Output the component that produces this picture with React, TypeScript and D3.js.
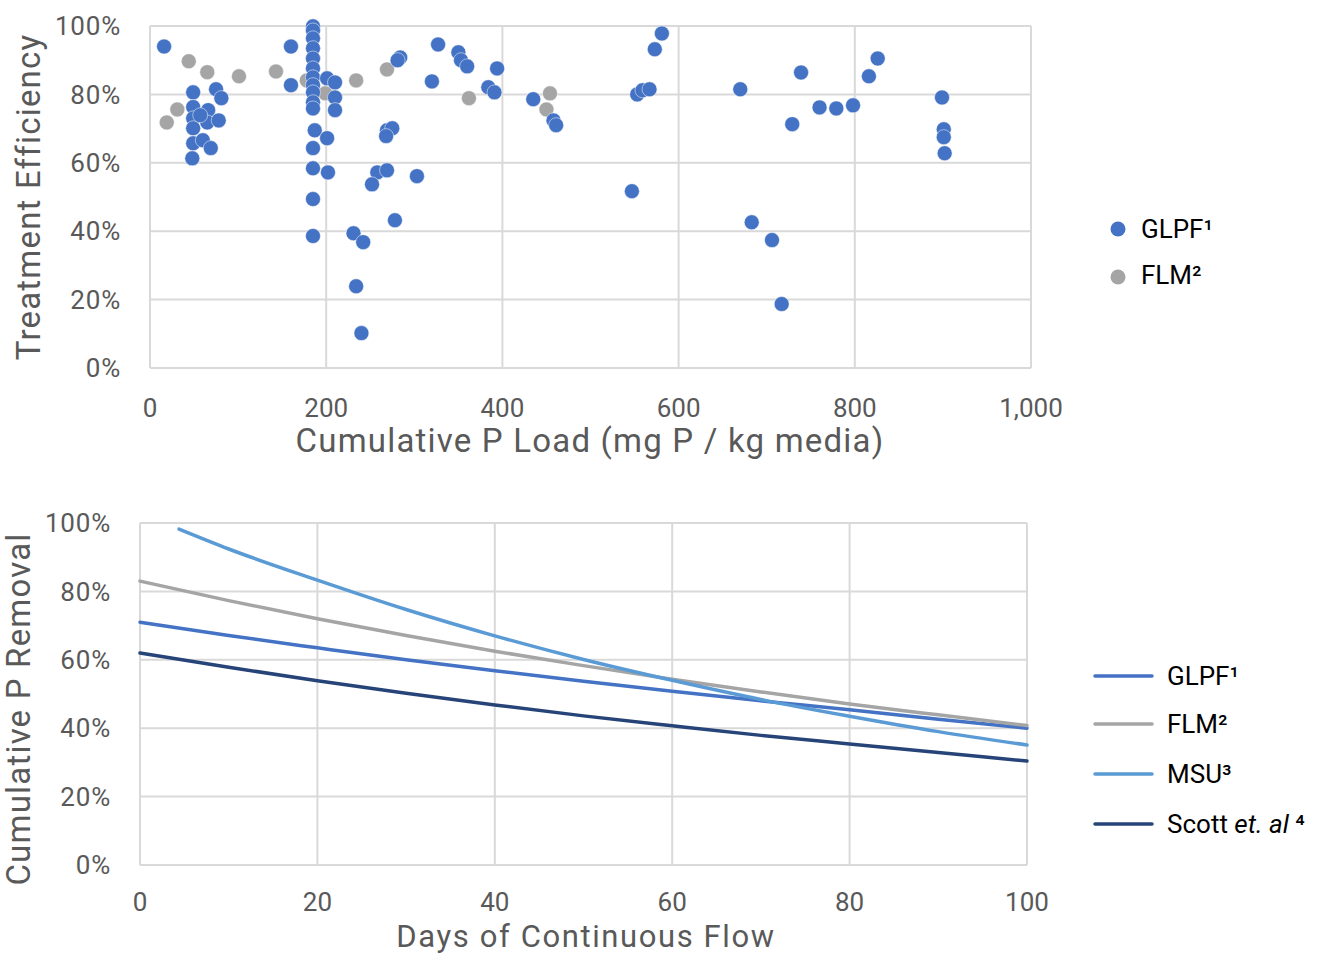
import React from 'react';
import * as d3 from 'd3';

// top chart: cumulative P load (mg P / kg media) vs treatment efficiency (%)
const glpfLoad = [16, 75, 81, 49, 49, 49, 49, 66, 65, 78, 49, 60, 69, 48, 57,
  185, 185, 160, 185, 185, 185, 185, 185, 160, 185, 185, 185, 185, 201, 210, 210, 210,
  187, 201, 185, 185, 202, 185, 185, 284, 281, 269, 275, 268, 258, 269, 252, 303,
  278, 231, 242, 234, 240, 327, 320, 350, 353, 360, 394, 384, 391, 435, 458, 461,
  581, 573, 553, 559, 567, 547, 670, 739, 729, 760, 779, 798, 826, 816, 899, 901, 901, 902,
  683, 706, 717];
const glpfEff = [94.0, 81.5, 78.9, 80.6, 76.3, 73.0, 70.1, 75.4, 71.8, 72.4, 65.7, 66.6, 64.3, 61.3, 73.9,
  99.9, 98.7, 94.0, 96.4, 93.5, 90.5, 87.6, 85.0, 82.7, 82.7, 80.6, 77.7, 75.9, 84.7, 83.5, 79.1, 75.4,
  69.5, 67.2, 64.3, 58.4, 57.2, 49.4, 38.6, 90.8, 90.0, 69.5, 70.1, 67.8, 57.2, 57.8, 53.7, 56.1,
  43.2, 39.4, 36.8, 23.9, 10.2, 94.6, 83.8, 92.3, 90.0, 88.2, 87.6, 82.1, 80.6, 78.6, 72.4, 71.0,
  97.8, 93.2, 80.0, 81.2, 81.5, 51.7, 81.5, 86.4, 71.3, 76.2, 75.9, 76.8, 90.5, 85.3, 79.1, 69.8, 67.5, 62.8,
  42.6, 37.4, 18.7];
const flmLoad = [44, 65, 101, 31, 19, 143, 178, 199, 234, 269, 362, 454, 450];
const flmEff = [89.7, 86.5, 85.3, 75.6, 71.8, 86.7, 84.1, 80.3, 84.1, 87.3, 78.9, 80.3, 75.6];

const loadTicks = [0, 200, 400, 600, 800, 1000];
const pctTicks = [0, 20, 40, 60, 80, 100];

// bottom chart: cumulative P removal (%) by days of continuous flow
const days = [0, 10, 20, 30, 40, 50, 60, 70, 80, 90, 100];
const glpfRemoval = [71.0, 67.1, 63.5, 60.0, 56.8, 53.7, 50.8, 48.0, 45.4, 42.6, 40.0];
const flmRemoval = [83.0, 77.3, 72.0, 67.1, 62.5, 58.3, 54.3, 50.6, 47.1, 43.9, 40.8];
const msuDays = [4.4, 10, 20, 30, 40, 50, 60, 70, 80, 90, 100];
const msuRemoval = [98.2, 92.4, 83.3, 74.7, 67.0, 60.1, 54.0, 48.4, 43.5, 39.0, 35.1];
const scottRemoval = [62.0, 57.8, 53.9, 50.2, 46.8, 43.6, 40.7, 37.9, 35.4, 32.9, 30.4];
const dayTicks = [0, 20, 40, 60, 80, 100];

const FONT = 'Roboto, "Noto Sans", sans-serif';
const GRID = '#D9D9D9';
const TICK = '#595959';
const BLUE = '#4472C4';
const GRAY = '#A5A5A5';
const LBLUE = '#5B9BD5';
const DBLUE = '#264478';

export default function App() {
  // top scatter
  const x1 = d3.scaleLinear().domain([0, 1000]).range([150, 1031]);
  const y1 = d3.scaleLinear().domain([0, 100]).range([368, 26]);
  // bottom lines
  const x2 = d3.scaleLinear().domain([0, 100]).range([140, 1027]);
  const y2 = d3.scaleLinear().domain([0, 100]).range([865, 523]);

  const fmt = d3.format(',');

  const mk = (xs: number[], ys: number[]) => xs.map((d, i) => [d, ys[i]] as [number, number]);
  const line = d3.line<[number, number]>()
    .x(d => x2(d[0]))
    .y(d => y2(d[1]))
    .curve(d3.curveMonotoneX);

  const series = [
    { name: 'GLPF', sup: '¹', color: BLUE, pts: mk(days, glpfRemoval), ly: 676 },
    { name: 'FLM', sup: '²', color: GRAY, pts: mk(days, flmRemoval), ly: 724 },
    { name: 'MSU', sup: '³', color: LBLUE, pts: mk(msuDays, msuRemoval), ly: 774 },
    { name: 'Scott', sup: '⁴', color: DBLUE, pts: mk(days, scottRemoval), ly: 824 },
  ];

  return (
    <svg width={1333} height={954} style={{ position: 'absolute', left: 0, top: 0, background: '#fff' }}
      fontFamily={FONT}>
      {/* ---------- top chart ---------- */}
      <g>
        {pctTicks.map(t => (
          <line key={'hy' + t} x1={x1(0)} x2={x1(1000)} y1={y1(t)} y2={y1(t)} stroke={GRID} strokeWidth={2} />
        ))}
        {loadTicks.map(t => (
          <line key={'hx' + t} x1={x1(t)} x2={x1(t)} y1={y1(0)} y2={y1(100)} stroke={GRID} strokeWidth={2} />
        ))}
        {pctTicks.map(t => (
          <text key={'ty' + t} x={121} y={y1(t)} dy="0.35em" textAnchor="end" fontSize={26} letterSpacing={0.8} fill={TICK}>{t}%</text>
        ))}
        {loadTicks.map(t => (
          <text key={'tx' + t} x={x1(t)} y={408} dy="0.35em" textAnchor="middle" fontSize={26} fill={TICK}>{fmt(t)}</text>
        ))}
        <text x={590} y={440} dy="0.35em" textAnchor="middle" fontSize={33} letterSpacing={1.2} fill={TICK}>Cumulative P Load (mg P / kg media)</text>
        <text transform={`translate(28,197) rotate(-90)`} dy="0.35em" textAnchor="middle" fontSize={33} letterSpacing={1.2} fill={TICK}>Treatment Efficiency</text>

        {flmLoad.map((d, i) => (
          <circle key={'f' + i} cx={x1(d)} cy={y1(flmEff[i])} r={7.5} fill={GRAY} stroke="#fff" strokeWidth={0.5} />
        ))}
        {glpfLoad.map((d, i) => (
          <circle key={'g' + i} cx={x1(d)} cy={y1(glpfEff[i])} r={7.5} fill={BLUE} stroke="#fff" strokeWidth={0.5} />
        ))}

        <circle cx={1118} cy={229} r={7.5} fill={BLUE} />
        <text x={1141} y={229} dy="0.35em" fontSize={26} fill="#000">GLPF¹</text>
        <circle cx={1118} cy={277} r={7.5} fill={GRAY} />
        <text x={1141} y={275} dy="0.35em" fontSize={26} fill="#000">FLM²</text>
      </g>

      {/* ---------- bottom chart ---------- */}
      <g>
        {pctTicks.map(t => (
          <line key={'by' + t} x1={x2(0)} x2={x2(100)} y1={y2(t)} y2={y2(t)} stroke={GRID} strokeWidth={2} />
        ))}
        {dayTicks.map(t => (
          <line key={'bx' + t} x1={x2(t)} x2={x2(t)} y1={y2(0)} y2={y2(100)} stroke={GRID} strokeWidth={2} />
        ))}
        {pctTicks.map(t => (
          <text key={'bty' + t} x={111} y={y2(t)} dy="0.35em" textAnchor="end" fontSize={26} letterSpacing={0.8} fill={TICK}>{t}%</text>
        ))}
        {dayTicks.map(t => (
          <text key={'btx' + t} x={x2(t)} y={902} dy="0.35em" textAnchor="middle" fontSize={26} fill={TICK}>{t}</text>
        ))}
        <text x={586} y={947} textAnchor="middle" fontSize={31} letterSpacing={1.6} fill={TICK}>Days of Continuous Flow</text>
        <text transform={`translate(18,709) rotate(-90)`} dy="0.35em" textAnchor="middle" fontSize={33} letterSpacing={1.2} fill={TICK}>Cumulative P Removal</text>

        {series.map(s => (
          <path key={s.name} d={line(s.pts) || ''} fill="none" stroke={s.color} strokeWidth={3.5} strokeLinecap="round" />
        ))}

        {series.map(s => (
          <g key={'l' + s.name}>
            <line x1={1095} x2={1152} y1={s.ly} y2={s.ly} stroke={s.color} strokeWidth={3.5} strokeLinecap="round" />
            <text x={1167} y={s.ly} dy="0.35em" fontSize={26} fill="#000">
              {s.name === 'Scott'
                ? <>Scott <tspan fontStyle="italic">et. al</tspan> {s.sup}</>
                : <>{s.name}{s.sup}</>}
            </text>
          </g>
        ))}
      </g>
    </svg>
  );
}
